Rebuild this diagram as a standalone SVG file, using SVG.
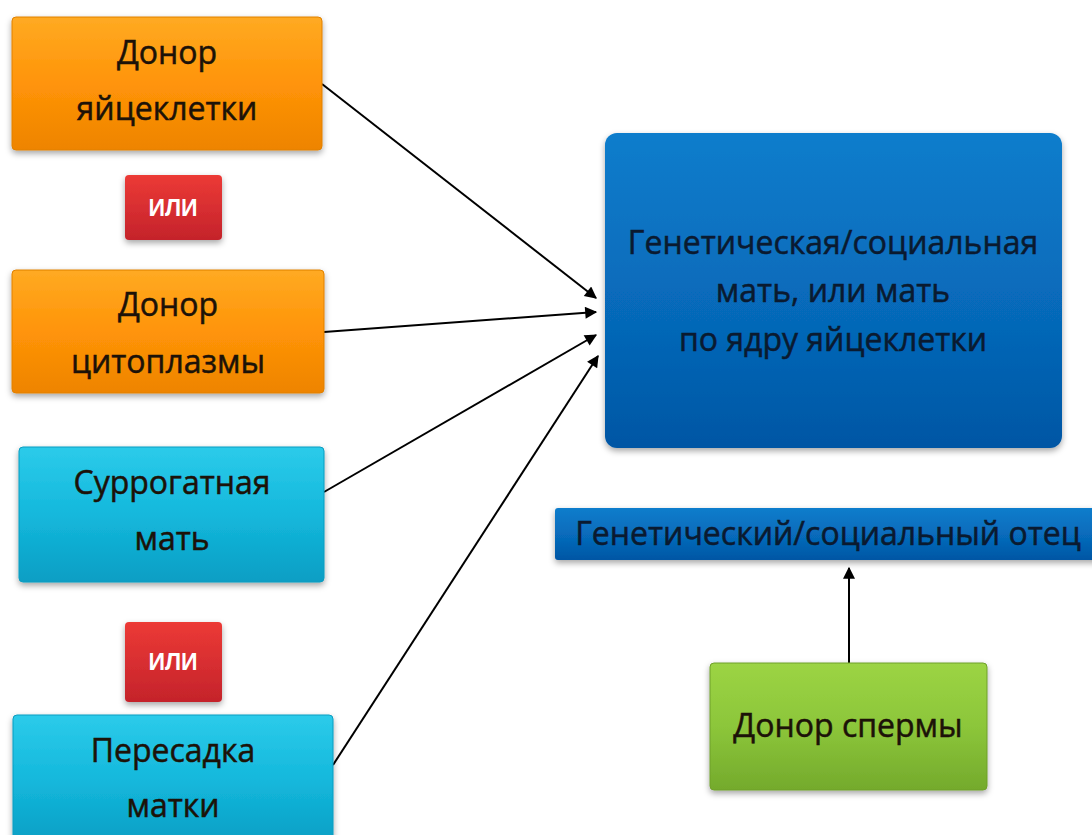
<svg xmlns="http://www.w3.org/2000/svg" width="1092" height="835" viewBox="0 0 1092 835">
<defs>
<linearGradient id="gOr" x1="0" y1="0" x2="0" y2="1"><stop offset="0" stop-color="#FFAA22"/><stop offset="0.5" stop-color="#FF9408"/><stop offset="1" stop-color="#EE8400"/></linearGradient>
<linearGradient id="gCy" x1="0" y1="0" x2="0" y2="1"><stop offset="0" stop-color="#2CCBEA"/><stop offset="0.5" stop-color="#14B8DC"/><stop offset="1" stop-color="#0A9EC4"/></linearGradient>
<linearGradient id="gBl" x1="0" y1="0" x2="0" y2="1"><stop offset="0" stop-color="#0C7DCC"/><stop offset="0.6" stop-color="#0668B8"/><stop offset="1" stop-color="#0356A4"/></linearGradient>
<linearGradient id="gRd" x1="0" y1="0" x2="0" y2="1"><stop offset="0" stop-color="#EC3A36"/><stop offset="1" stop-color="#C4232B"/></linearGradient>
<linearGradient id="gGr" x1="0" y1="0" x2="0" y2="1"><stop offset="0" stop-color="#9CD444"/><stop offset="0.5" stop-color="#8CC63A"/><stop offset="1" stop-color="#74AA2C"/></linearGradient>
<filter id="sh" x="-10%" y="-10%" width="120%" height="130%"><feDropShadow dx="0" dy="3" stdDeviation="3" flood-color="#000" flood-opacity="0.35"/></filter>
<marker id="ah" viewBox="0 0 10 10" refX="9" refY="5" markerWidth="14" markerHeight="12" markerUnits="userSpaceOnUse" orient="auto"><path d="M0,0 L10,5 L0,10 z" fill="#000"/></marker>
</defs>
<style>
.t{font-family:"Open Sans","Noto Sans","Liberation Sans",sans-serif;font-size:32px;fill:#1c1208;stroke:#1c1208;stroke-width:0.5;text-anchor:middle}
.tb{font-family:"Open Sans","Noto Sans","Liberation Sans",sans-serif;font-size:32px;fill:#0a1a30;stroke:#0a1a30;stroke-width:0.5;text-anchor:middle}
.or{font-family:"Liberation Sans","Noto Sans",sans-serif;font-size:23px;font-weight:bold;fill:#fff;text-anchor:middle}
.c{stroke:#000;stroke-width:2;fill:none;marker-end:url(#ah)}
</style>
<rect width="1092" height="835" fill="#fff"/>
<g id="connectors">
<line class="c" x1="322" y1="84" x2="596" y2="298"/>
<line class="c" x1="324" y1="332" x2="596" y2="312"/>
<line class="c" x1="324" y1="492" x2="596" y2="335"/>
<line class="c" x1="333" y1="765" x2="598" y2="356"/>
<line class="c" x1="849" y1="663" x2="849" y2="568"/>
</g>
<g id="egg-donor">
<rect x="12" y="17" width="310" height="133" rx="4" fill="url(#gOr)" stroke="#E08000" filter="url(#sh)"/>
<text class="t" x="167" y="64">Донор</text>
<text class="t" x="167" y="120">яйцеклетки</text>
</g>
<g id="or1">
<rect x="125" y="175" width="97" height="65" rx="4" fill="url(#gRd)" filter="url(#sh)"/>
<text class="or" x="173" y="216">ИЛИ</text>
</g>
<g id="cytoplasm-donor">
<rect x="12" y="270" width="312" height="123" rx="4" fill="url(#gOr)" stroke="#E08000" filter="url(#sh)"/>
<text class="t" x="168" y="316">Донор</text>
<text class="t" x="168" y="373">цитоплазмы</text>
</g>
<g id="surrogate">
<rect x="19" y="447" width="305" height="135" rx="4" fill="url(#gCy)" stroke="#0A9CC0" filter="url(#sh)"/>
<text class="t" x="172" y="494">Суррогатная</text>
<text class="t" x="172" y="550">мать</text>
</g>
<g id="or2">
<rect x="125" y="622" width="97" height="80" rx="4" fill="url(#gRd)" filter="url(#sh)"/>
<text class="or" x="173" y="670">ИЛИ</text>
</g>
<g id="uterus">
<rect x="13" y="715" width="320" height="130" rx="4" fill="url(#gCy)" stroke="#0A9CC0" filter="url(#sh)"/>
<text class="t" x="173" y="762">Пересадка</text>
<text class="t" x="173" y="817">матки</text>
</g>
<g id="mother">
<rect x="605" y="133" width="457" height="315" rx="12" fill="url(#gBl)" filter="url(#sh)"/>
<text class="tb" x="833" y="254">Генетическая/социальная</text>
<text class="tb" x="833" y="302">мать, или мать</text>
<text class="tb" x="833" y="351">по ядру яйцеклетки</text>
</g>
<g id="father">
<rect x="555" y="508" width="545" height="52" rx="3" fill="url(#gBl)" filter="url(#sh)"/>
<text class="tb" x="828" y="545">Генетический/социальный отец</text>
</g>
<g id="sperm-donor">
<rect x="710" y="663" width="277" height="127" rx="4" fill="url(#gGr)" stroke="#6FA02A" filter="url(#sh)"/>
<text class="t" x="848" y="737">Донор спермы</text>
</g>
</svg>
